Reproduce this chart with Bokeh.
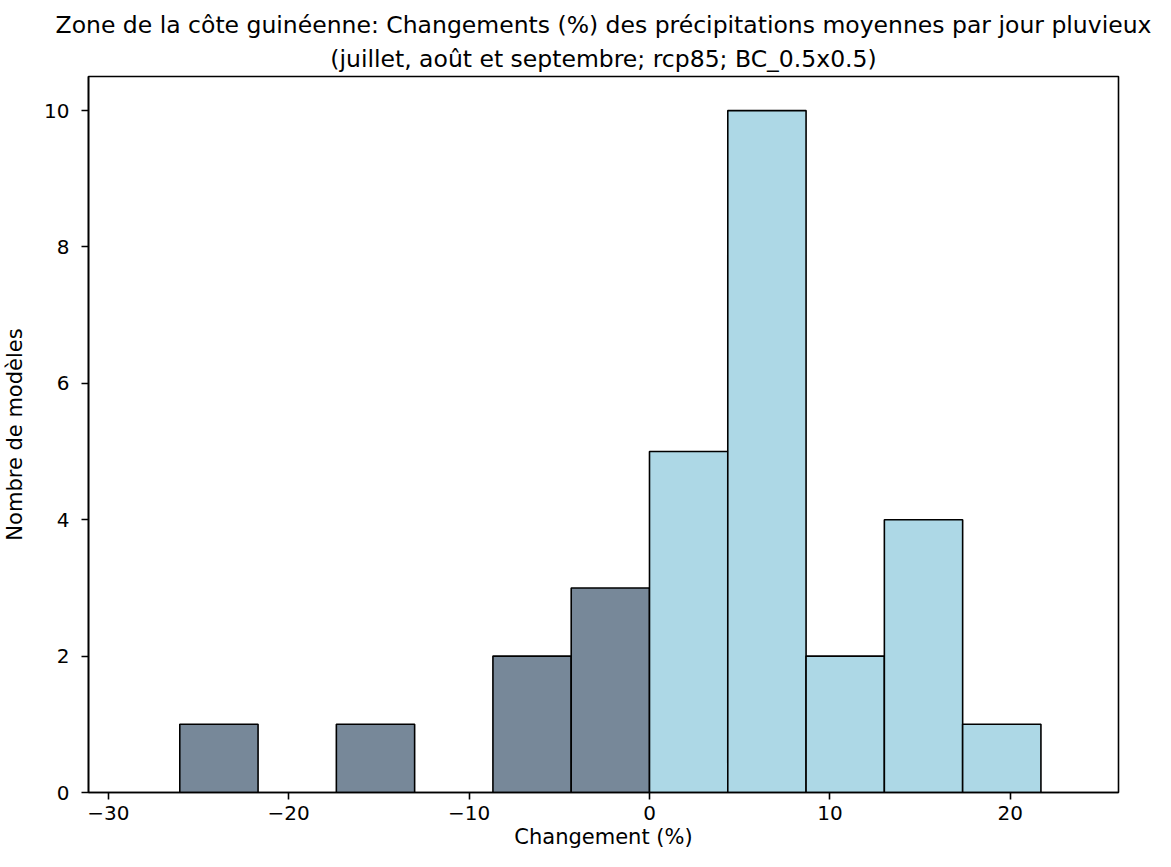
from bokeh.plotting import figure
from bokeh.models import Range1d, FixedTicker, Title, ColumnDataSource
from bokeh.embed import file_html
from bokeh.resources import INLINE

# ---- data ----
bin_edges = [-26.04, -21.70, -17.36, -13.02, -8.68, -4.34, 0.0, 4.34, 8.68, 13.02, 17.36, 21.70]
counts = [1, 0, 1, 0, 2, 3, 5, 10, 2, 4, 1]
x_ticks = [-30, -20, -10, 0, 10, 20]
y_ticks = [0, 2, 4, 6, 8, 10]
title_line1 = "Zone de la côte guinéenne: Changements (%) des précipitations moyennes par jour pluvieux"
title_line2 = "(juillet, août et septembre; rcp85; BC_0.5x0.5)"
x_label = "Changement (%)"
y_label = "Nombre de modèles"

NEG_COLOR = "#778899"
POS_COLOR = "#add8e6"
FONT = "DejaVu Sans"

left, right, top, colors = [], [], [], []
for i, c in enumerate(counts):
    if c == 0:
        continue
    left.append(bin_edges[i])
    right.append(bin_edges[i + 1])
    top.append(c)
    colors.append(NEG_COLOR if bin_edges[i + 1] <= 0 else POS_COLOR)
src = ColumnDataSource(dict(left=left, right=right, top=top, bottom=[0] * len(top), color=colors))

p = figure(width=1155, height=851, output_backend="svg", toolbar_location=None,
           x_range=Range1d(-31.1, 26.0), y_range=Range1d(0, 10.5),
           min_border_left=87, min_border_right=37, min_border_top=76, min_border_bottom=58)
p.title = None

p.quad(left="left", right="right", top="top", bottom="bottom", source=src,
       fill_color="color", line_color="black", line_width=1.6)

p.xgrid.visible = False
p.ygrid.visible = False
p.outline_line_color = "black"
p.outline_line_width = 1.6
p.outline_line_alpha = 1.0

def minus(v):
    return ("\u2212" + str(abs(v))) if v < 0 else str(v)

for ax in (p.xaxis[0], p.yaxis[0]):
    ax.axis_line_color = "black"
    ax.axis_line_width = 1.6
    ax.major_tick_line_color = "black"
    ax.major_tick_line_width = 1.6
    ax.major_tick_out = 7
    ax.major_tick_in = 0
    ax.minor_tick_line_color = None
    ax.major_label_text_font = FONT
    ax.major_label_text_font_size = "20px"
    ax.major_label_text_color = "black"
    ax.axis_label_text_font = FONT
    ax.axis_label_text_font_size = "21px"
    ax.axis_label_text_font_style = "normal"
    ax.axis_label_text_color = "black"

p.xaxis[0].ticker = FixedTicker(ticks=x_ticks)
p.yaxis[0].ticker = FixedTicker(ticks=y_ticks)
p.xaxis[0].major_label_overrides = {v: minus(v) for v in x_ticks}
p.yaxis[0].major_label_overrides = {v: str(v) for v in y_ticks}
p.xaxis[0].axis_label = x_label
p.yaxis[0].axis_label = y_label
p.xaxis[0].major_label_standoff = 6
p.xaxis[0].axis_label_standoff = 2
p.yaxis[0].major_label_standoff = 12
p.yaxis[0].axis_label_standoff = 14

t2 = Title(text=title_line2, align="center", text_font=FONT, text_font_size="23.5px",
           text_font_style="normal", text_color="black", standoff=8, offset=0)
t1 = Title(text=title_line1, align="center", text_font=FONT, text_font_size="23.5px",
           text_font_style="normal", text_color="black", standoff=0, offset=0)
p.add_layout(t2, "above")
p.add_layout(t1, "above")

open("out.html", "w").write(file_html(p, INLINE))
